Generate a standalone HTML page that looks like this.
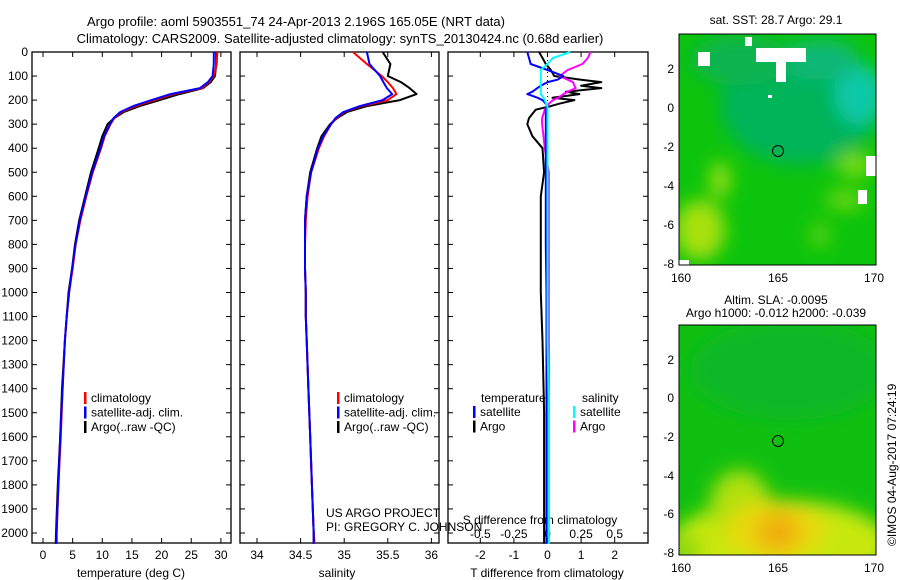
<!DOCTYPE html>
<html><head><meta charset="utf-8"><style>
body{margin:0;background:#fff}
svg{display:block;font-family:"Liberation Sans",sans-serif;font-size:12px}
</style></head><body>
<svg id="c" width="900" height="580" viewBox="0 0 900 580">
<defs>
<clipPath id="m1"><rect x="679" y="34" width="197" height="231"/></clipPath>
<clipPath id="m2"><rect x="679" y="325" width="197" height="230"/></clipPath>
<filter id="bl" x="-50%" y="-50%" width="200%" height="200%"><feGaussianBlur stdDeviation="9"/></filter>
<filter id="bl2" x="-50%" y="-50%" width="200%" height="200%"><feGaussianBlur stdDeviation="4"/></filter>
</defs>
<text x="296" y="26" text-anchor="middle" font-size="13">Argo profile: aoml 5903551_74 24-Apr-2013 2.196S 165.05E (NRT data)</text>
<text x="340" y="43" text-anchor="middle" font-size="13">Climatology: CARS2009. Satellite-adjusted climatology: synTS_20130424.nc (0.68d earlier)</text>

<g>
<g clip-path="url(#m1)">
<rect x="679" y="34" width="197" height="231" fill="#0cc40c"/>
<g filter="url(#bl)">
<ellipse cx="800" cy="105" rx="80" ry="60" fill="#06b45a"/>
<ellipse cx="860" cy="95" rx="25" ry="30" fill="#10c8a8"/>
<ellipse cx="820" cy="60" rx="40" ry="20" fill="#08b878"/>
<ellipse cx="740" cy="60" rx="50" ry="25" fill="#0cb450"/>
<ellipse cx="700" cy="230" rx="25" ry="30" fill="#a8e00c"/>
<ellipse cx="720" cy="180" rx="10" ry="18" fill="#a0e010"/>
<ellipse cx="855" cy="165" rx="18" ry="12" fill="#80dc10"/>
<ellipse cx="845" cy="200" rx="20" ry="10" fill="#70d810"/>
<ellipse cx="820" cy="235" rx="10" ry="12" fill="#60d410"/>
</g>
<g fill="#fff">
<rect x="745" y="37" width="7" height="9"/><rect x="698" y="52" width="12" height="14"/>
<rect x="756" y="48" width="50" height="14"/><rect x="776" y="60" width="10" height="22"/>
<rect x="866" y="156" width="12" height="20"/><rect x="858" y="190" width="9" height="14"/>
<rect x="768" y="95" width="4" height="3"/><rect x="679" y="260" width="10" height="5"/>
</g>
</g>
<rect x="679" y="34" width="197" height="231" fill="none" stroke="#000"/>
<circle cx="778" cy="151" r="5.5" fill="none" stroke="#000"/>
<text x="776" y="24" text-anchor="middle">sat. SST: 28.7 Argo: 29.1</text>
<g text-anchor="end"><text x="674" y="73">2</text><text x="674" y="112">0</text><text x="674" y="151">-2</text><text x="674" y="190">-4</text><text x="674" y="229">-6</text><text x="674" y="268">-8</text></g>
<g text-anchor="middle"><text x="681" y="282">160</text><text x="778" y="282">165</text><text x="874" y="282">170</text></g>
</g>

<g>
<g clip-path="url(#m2)">
<rect x="679" y="325" width="197" height="230" fill="#10c010"/>
<g filter="url(#bl)">
<ellipse cx="790" cy="370" rx="100" ry="50" fill="#0cb828"/>
<ellipse cx="780" cy="545" rx="110" ry="45" fill="#c8e80c"/>
<ellipse cx="740" cy="505" rx="30" ry="35" fill="#b0e010"/>
<ellipse cx="775" cy="530" rx="50" ry="30" fill="#e8d810"/>
<ellipse cx="778" cy="532" rx="22" ry="20" fill="#f0b010"/>
<ellipse cx="690" cy="548" rx="10" ry="8" fill="#40c810"/>
</g>
</g>
<rect x="679" y="325" width="197" height="230" fill="none" stroke="#000"/>
<circle cx="778" cy="441" r="5.5" fill="none" stroke="#000"/>
<text x="776" y="304" text-anchor="middle">Altim. SLA: -0.0095</text>
<text x="776" y="317" text-anchor="middle">Argo h1000: -0.012 h2000: -0.039</text>
<g text-anchor="end"><text x="674" y="364">2</text><text x="674" y="402">0</text><text x="674" y="441">-2</text><text x="674" y="480">-4</text><text x="674" y="518">-6</text><text x="674" y="557">-8</text></g>
<g text-anchor="middle"><text x="681" y="572">160</text><text x="778" y="572">165</text><text x="874" y="572">170</text></g>
<text transform="translate(896,546) rotate(-90)">©IMOS 04-Aug-2017 07:24:19</text>
</g>
<g id="plots"></g>
</svg>
<script>
const depthP=[0,50,100,125,150,175,200,225,250,275,300,350,400,500,600,700,800,900,1000,1100,1200,1400,1600,1800,2000,2045];
const tArgo=[29.2,29.2,29.0,28.3,27.0,23.0,19.7,16.3,13.6,12.0,10.9,10.0,9.4,8.1,7.1,6.1,5.4,4.9,4.3,4.0,3.7,3.2,2.9,2.5,2.2,2.15];
const tSat=[28.8,28.8,28.6,27.8,26.5,21.5,18.3,15.2,13.0,11.9,11.3,10.3,9.7,8.3,7.2,6.2,5.5,4.9,4.4,4.0,3.7,3.3,2.9,2.6,2.3,2.3];
const tClim=[29.4,29.3,28.8,28.0,26.8,22.0,18.8,15.6,13.2,12.0,11.4,10.4,9.8,8.4,7.3,6.3,5.5,5.0,4.4,4.0,3.7,3.3,3.0,2.6,2.3,2.3];
const sArgo=[35.44,35.53,35.50,35.65,35.75,35.83,35.64,35.26,35.03,34.92,34.84,34.74,34.69,34.61,34.57,34.55,34.55,34.55,34.56,34.56,34.57,34.59,34.61,34.63,34.65,34.65];
const sSat=[35.26,35.29,35.41,35.45,35.49,35.55,35.44,35.18,34.99,34.90,34.85,34.76,34.70,34.62,34.57,34.55,34.55,34.55,34.56,34.56,34.57,34.59,34.61,34.63,34.65,34.65];
const sClim=[35.10,35.26,35.43,35.50,35.56,35.60,35.50,35.20,35.00,34.91,34.85,34.77,34.71,34.62,34.58,34.56,34.55,34.55,34.56,34.56,34.57,34.59,34.61,34.63,34.65,34.66];
const depthD=[0,25,50,75,100,115,125,140,150,165,175,190,200,215,225,240,275,300,350,400,500,600,800,1000,1200,1500,1800,2045];
const dTargo=[-0.25,-0.15,-0.05,0.1,0.2,1.0,1.6,1.0,1.6,0.55,0.95,0.15,0.8,0.35,0.1,-0.35,-0.55,-0.6,-0.45,-0.15,-0.1,-0.2,-0.2,-0.2,-0.15,-0.1,-0.1,-0.1];
const dTsat=[-0.6,-0.55,-0.5,0.0,0.47,0.3,0.0,-0.2,-0.3,-0.45,-0.6,-0.3,-0.15,-0.05,0,-0.05,-0.05,-0.05,-0.05,-0.05,-0.05,-0.05,-0.05,-0.03,-0.03,-0.03,-0.03,-0.03];
const dSargo=[0.32,0.3,0.26,0.15,0.09,0.15,0.19,0.2,0.21,0.15,0.12,0.08,0.04,0.01,0,-0.02,-0.04,-0.04,-0.03,-0.02,0.01,0.01,0.01,0.01,0.01,0.01,0.01,0.01];
const dSsat=[0.17,0.04,0.0,-0.05,-0.05,-0.05,-0.05,-0.05,-0.05,-0.05,-0.05,-0.03,-0.02,-0.01,0,0,0,0,0,0,0,0,0,0,0,0.01,0.01,0.01];
const depthTicks=[0,100,200,300,400,500,600,700,800,900,1000,1100,1200,1300,1400,1500,1600,1700,1800,1900,2000];
const tTicks=[0,5,10,15,20,25,30];
const sTicks=[34,34.5,35,35.5,36];
const dtTicks=[-2,-1,0,1,2];
const dsTicks=[-0.5,-0.25,0,0.25,0.5];

const NS='http://www.w3.org/2000/svg';
const G=document.getElementById('plots');
const TOP=52,BOT=543;
const yD=d=>TOP+d*0.2405;
const xT=t=>43+t*5.93;
const xS=s=>257+(s-34)*87.2;
const xDT=v=>547.5+v*33.6;
const xDS=v=>547.5+v*134.4;
function el(tag,attrs,parent){const e=document.createElementNS(NS,tag);for(const k in attrs)e.setAttribute(k,attrs[k]);(parent||G).appendChild(e);return e;}
function txt(x,y,s,anchor,parent){const t=el('text',{x:x,y:y,'text-anchor':anchor||'start'},parent);t.textContent=s;return t;}
function line(xs,ds,fx,color,name){
  let d='';xs.forEach((v,i)=>{d+=(i?'L':'M')+fx(v).toFixed(1)+','+yD(ds[i]).toFixed(1);});
  const p=el('path',{d:d,fill:'none',stroke:color,'stroke-width':2,'stroke-linejoin':'round'});
  
  
}
function panel(x0,x1,name){
  const g=el('g',{});
  
  
  el('rect',{x:x0,y:TOP,width:x1-x0,height:BOT-TOP,fill:'none',stroke:'#000','stroke-width':1.3},g);
  depthTicks.forEach(d=>{el('line',{x1:x0,x2:x0+5,y1:yD(d),y2:yD(d),stroke:'#000'},g);el('line',{x1:x1,x2:x1-5,y1:yD(d),y2:yD(d),stroke:'#000'},g);});
  return g;
}
// depth labels
const dl=el('g',{'text-anchor':'end'});


depthTicks.forEach(d=>txt(28,yD(d)+4,String(d),'end',dl));

// panel 1
const p1=panel(32,231,'temperature-panel');
tTicks.forEach(t=>{el('line',{x1:xT(t),x2:xT(t),y1:BOT,y2:BOT-5,stroke:'#000'},p1);el('line',{x1:xT(t),x2:xT(t),y1:TOP,y2:TOP+5,stroke:'#000'},p1);txt(xT(t),559,String(t),'middle',p1);});
txt(131,577,'temperature (deg C)','middle',p1);
line(tArgo,depthP,xT,'#000','temp-argo-line');
line(tClim,depthP,xT,'#f00','temp-climatology-line');
line(tSat,depthP,xT,'#00f','temp-satellite-line');
// panel 2
const p2=panel(240,439,'salinity-panel');
sTicks.forEach(s=>{el('line',{x1:xS(s),x2:xS(s),y1:BOT,y2:BOT-5,stroke:'#000'},p2);el('line',{x1:xS(s),x2:xS(s),y1:TOP,y2:TOP+5,stroke:'#000'},p2);txt(xS(s),559,String(s),'middle',p2);});
txt(337,577,'salinity','middle',p2);
line(sArgo,depthP,xS,'#000','sal-argo-line');
line(sClim,depthP,xS,'#f00','sal-climatology-line');
line(sSat,depthP,xS,'#00f','sal-satellite-line');
// panel 3
const p3=panel(448,648,'difference-panel');
dtTicks.forEach(v=>{el('line',{x1:xDT(v),x2:xDT(v),y1:BOT,y2:BOT-5,stroke:'#000'},p3);el('line',{x1:xDT(v),x2:xDT(v),y1:TOP,y2:TOP+5,stroke:'#000'},p3);txt(xDT(v),559,String(v),'middle',p3);});
txt(547,577,'T difference from climatology','middle',p3);
dsTicks.forEach(v=>txt(xDS(v),538,String(v),'middle',p3));
txt(540,524,'S difference from climatology','middle',p3);
el('line',{x1:547.5,x2:547.5,y1:TOP,y2:yD(260),stroke:'#000','stroke-dasharray':'1,3'},p3);
line(dTargo,depthD,xDT,'#000','dt-argo-line');
line(dSargo,depthD,xDS,'#f0f','ds-argo-line');
line(dTsat,depthD,xDT,'#00f','dt-satellite-line');
line(dSsat,depthD,xDS,'#0ff','ds-satellite-line');

// legends
function legend(x,y,items,name){
  const g=el('g',{});
  
  
  items.forEach((it,i)=>{el('rect',{x:x,y:y+i*14.5-10,width:2.5,height:12,fill:it[1]},g);txt(x+7,y+i*14.5,it[0],'start',g);});
}
legend(84,402,[['climatology','#f00'],['satellite-adj. clim.','#00f'],['Argo(..raw -QC)','#000']],'temperature-legend');
legend(337,402,[['climatology','#f00'],['satellite-adj. clim.','#00f'],['Argo(..raw -QC)','#000']],'salinity-legend');
txt(481,402,'temperature','start');
txt(582,402,'salinity','start');
legend(473,416,[['satellite','#00f'],['Argo','#000']],'diff-temperature-legend');
legend(573,416,[['satellite','#0ff'],['Argo','#f0f']],'diff-salinity-legend');
txt(326,517,'US ARGO PROJECT','start');
txt(326,531,'PI: GREGORY C. JOHNSON','start');
</script>
</body></html>
